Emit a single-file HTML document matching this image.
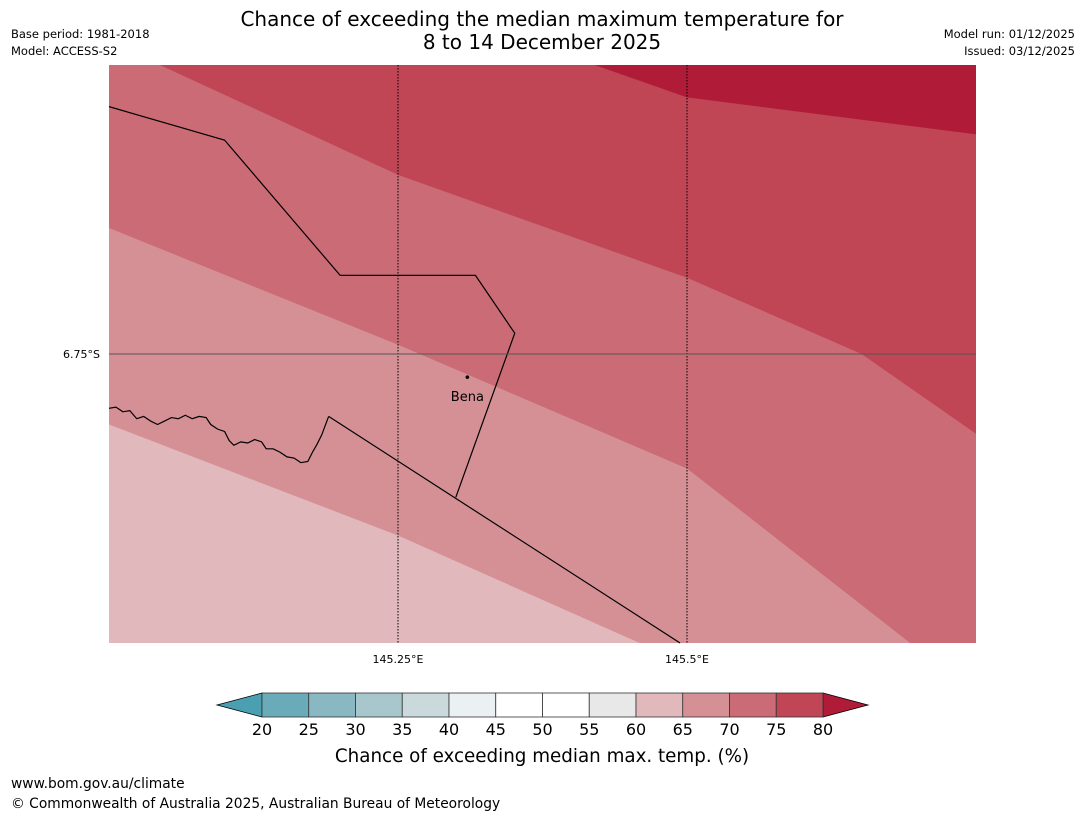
<!DOCTYPE html>
<html><head><meta charset="utf-8"><style>
body{margin:0;background:#fff;font-family:"Liberation Sans","DejaVu Sans",sans-serif;}
svg text{font-family:"DejaVu Sans","Liberation Sans",sans-serif;}
</style></head><body>
<svg id="c" width="1085" height="816" viewBox="0 0 1085 816" xmlns="http://www.w3.org/2000/svg">
<text x="542" y="26" text-anchor="middle" font-size="20">Chance of exceeding the median maximum temperature for</text>
<text x="542" y="49" text-anchor="middle" font-size="20">8 to 14 December 2025</text>
<text x="11" y="38" font-size="11.5">Base period: 1981-2018</text>
<text x="11" y="55" font-size="11.5">Model: ACCESS-S2</text>
<text x="1075" y="38" font-size="11.5" text-anchor="end">Model run: 01/12/2025</text>
<text x="1075" y="55" font-size="11.5" text-anchor="end">Issued: 03/12/2025</text>
<g id="map"></g>
<g id="cbar"></g>
<text x="542" y="762" text-anchor="middle" font-size="18.3">Chance of exceeding median max. temp. (%)</text>
<text x="11" y="788" font-size="13.8">www.bom.gov.au/climate</text>
<text x="11" y="808" font-size="13.8">© Commonwealth of Australia 2025, Australian Bureau of Meteorology</text>
</svg>
<script>
const bandLevels=[65,70,75,80];
const contour65=[[145.0,-6.811],[145.25,-6.907],[145.459,-7.0]];
const contour70=[[145.0,-6.641],[145.25,-6.742],[145.5,-6.849],[145.693,-7.0]];
const contour75=[[145.044,-6.5],[145.25,-6.595],[145.5,-6.684],[145.651,-6.75],[145.75,-6.819]];
const contour80=[[145.420,-6.5],[145.5,-6.528],[145.75,-6.560]];
const border1=[[145.0,-6.536],[145.1,-6.565],[145.2,-6.682],[145.317,-6.682],[145.351,-6.732],[145.3,-6.874]];
const border2=[[145.190,-6.804],[145.494,-7.0]];
const coast=[[145.0,-6.797],[145.006,-6.796],[145.012,-6.800],[145.018,-6.799],[145.024,-6.806],[145.030,-6.804],[145.036,-6.808],[145.042,-6.811],[145.048,-6.808],[145.054,-6.805],[145.060,-6.806],[145.066,-6.803],[145.072,-6.806],[145.078,-6.804],[145.084,-6.805],[145.088,-6.811],[145.094,-6.815],[145.100,-6.817],[145.104,-6.825],[145.108,-6.829],[145.114,-6.826],[145.120,-6.827],[145.126,-6.824],[145.132,-6.826],[145.136,-6.832],[145.142,-6.832],[145.148,-6.835],[145.154,-6.839],[145.160,-6.840],[145.166,-6.844],[145.172,-6.843],[145.176,-6.835],[145.180,-6.828],[145.184,-6.820],[145.190,-6.804]];
const towns=[["Bena",145.310,-6.770]];
const cbLevels=[20,25,30,35,40,45,50,55,60,65,70,75,80];
const cbColors=["#6aabb9","#89b8c3","#a8c7cc","#c9d9dc","#ebf0f2","#ffffff","#ffffff","#e8e8e8","#e1b8bc","#d59096","#cb6b75","#c04656"];
const lowColor="#4a9fb0", highColor="#b01c38", baseColor="#e1b8bc";
const bandColors=["#d59096","#cb6b75","#c04656","#b01c38"];
const lonMin=145.0,lonMax=145.75,latMax=-6.5,latMin=-7.0;
const X0=109,X1=976,Y0=65,Y1=643;
const sx=lon=>X0+(lon-lonMin)/(lonMax-lonMin)*(X1-X0);
const sy=lat=>Y0+(latMax-lat)/(latMax-latMin)*(Y1-Y0);
const NS="http://www.w3.org/2000/svg";
const map=document.getElementById('map');
function mk(tag,attrs,parent){const e=document.createElementNS(NS,tag);for(const k in attrs)e.setAttribute(k,attrs[k]);parent.appendChild(e);return e;}
let bg=mk('rect',{x:X0,y:Y0,width:X1-X0,height:Y1-Y0,fill:baseColor},map);


[contour65,contour70,contour75,contour80].forEach((c,i)=>{
  const pts=c.map(p=>[p[0],p[1]]);
  const last=pts[pts.length-1];
  if(last[1]<=latMin+1e-6) pts.push([lonMax,latMin]);
  pts.push([lonMax,latMax]);
  if(pts[0][0]<=lonMin+1e-6) pts.push([lonMin,latMax]);
  const p=mk('polygon',{points:pts.map(q=>sx(q[0])+','+sy(q[1])).join(' '),fill:bandColors[i]},map);
  
  
});
function line(arr,name){const p=mk('polyline',{points:arr.map(q=>sx(q[0])+','+sy(q[1])).join(' '),fill:'none',stroke:'#000','stroke-width':1.2},map);
  
  }
line(border1,'province-border');
line(border2,'province-border-south');
line(coast,'coastline');
[145.25,145.5].forEach(l=>{const g=mk('line',{x1:sx(l),x2:sx(l),y1:Y0,y2:Y1,stroke:'#000','stroke-width':1,'stroke-dasharray':'1.5,1.5'},map);
  
  
  const t=mk('text',{x:sx(l),y:Y1+20,'text-anchor':'middle','font-size':11},map);t.textContent=l+'°E';
  
  });
[-6.75].forEach(l=>{const g=mk('line',{x1:X0,x2:X1,y1:sy(l),y2:sy(l),stroke:'#555','stroke-width':1},map);
  
  
  const t=mk('text',{x:X0-9,y:sy(l)+4,'text-anchor':'end','font-size':11},map);t.textContent=(-l)+'°S';
  
  });
towns.forEach(tw=>{const d=mk('circle',{cx:sx(tw[1]),cy:sy(tw[2]),r:1.8,fill:'#000'},map);
  
  
  const t=mk('text',{x:sx(tw[1]),y:sy(tw[2])+24,'text-anchor':'middle','font-size':13},map);t.textContent=tw[0];
  
  });
const cb=document.getElementById('cbar');
const CX0=262,CX1=823,CY0=693,CY1=717;
const cx=v=>CX0+(v-cbLevels[0])/(cbLevels[cbLevels.length-1]-cbLevels[0])*(CX1-CX0);
let lt=mk('polygon',{points:`${CX0},${CY0} ${CX0},${CY1} 217,${(CY0+CY1)/2}`,fill:lowColor,stroke:'#000','stroke-width':0.8},cb);


let rt=mk('polygon',{points:`${CX1},${CY0} ${CX1},${CY1} 868,${(CY0+CY1)/2}`,fill:highColor,stroke:'#000','stroke-width':0.8},cb);


for(let i=0;i<cbColors.length;i++){const r=mk('rect',{x:cx(cbLevels[i]),y:CY0,width:cx(cbLevels[i+1])-cx(cbLevels[i]),height:CY1-CY0,fill:cbColors[i],stroke:'#333','stroke-width':0.8},cb);
  
  }
cbLevels.forEach(v=>{const t=mk('text',{x:cx(v),y:735,'text-anchor':'middle','font-size':16},cb);t.textContent=v;
  
  });
</script>
</body></html>
